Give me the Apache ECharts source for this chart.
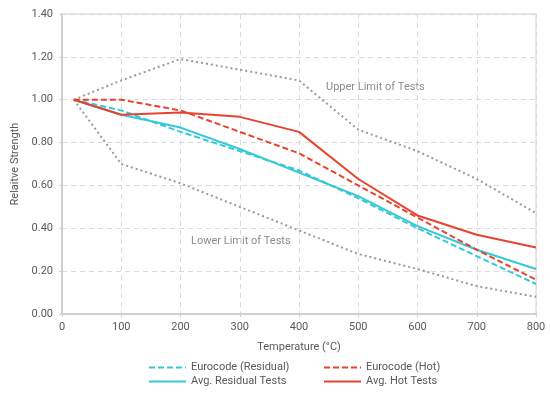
<!DOCTYPE html>
<html><head><meta charset="utf-8">
<script src="https://cdn.jsdelivr.net/npm/echarts@6/dist/echarts.min.js"></script>
<style>html,body{margin:0;padding:0;background:#fff}#c{width:550px;height:394px}</style>
</head><body><div id="c"></div>
<script>
const temps = [20, 100, 200, 300, 400, 500, 600, 700, 800];
const eurocodeResidual = [1.00, 0.95, 0.85, 0.76, 0.67, 0.54, 0.40, 0.27, 0.14];
const avgResidual      = [1.00, 0.93, 0.87, 0.77, 0.66, 0.55, 0.41, 0.30, 0.21];
const eurocodeHot      = [1.00, 1.00, 0.95, 0.85, 0.75, 0.60, 0.45, 0.30, 0.16];
const avgHot           = [1.00, 0.93, 0.94, 0.92, 0.85, 0.63, 0.46, 0.37, 0.31];
const upperLimit       = [1.00, 1.09, 1.19, 1.14, 1.09, 0.86, 0.76, 0.63, 0.47];
const lowerLimit       = [1.00, 0.70, 0.61, 0.50, 0.39, 0.28, 0.21, 0.13, 0.08];
const xTicks = [0, 100, 200, 300, 400, 500, 600, 700, 800];
const yTicks = [0, 0.2, 0.4, 0.6, 0.8, 1.0, 1.2, 1.4];

const pair = arr => temps.map((t, i) => [t, arr[i]]);
const CYAN = '#35c8d6', RED = '#e8432f', GRAY = '#9a9a9a';
const FONT = 'Roboto';
const FS = 11;

function line(name, data, color, type) {
  return {
    name, type: 'line', data: pair(data), symbol: 'none', smooth: false,
    lineStyle: { color, width: 2, type }, itemStyle: { color }, z: 3
  };
}
function leg(name, left, top) {
  return {
    data: [{ name, icon: 'inherit' }], left, top, orient: 'horizontal', padding: 0,
    itemWidth: 37, itemHeight: 10, itemGap: 0,
    itemStyle: { opacity: 0 },
    lineStyle: { width: 2 },
    textStyle: { color: '#595959', fontSize: FS, fontFamily: FONT }
  };
}

const chart = echarts.init(document.getElementById('c'), null, { renderer: 'canvas' });
chart.setOption({
  animation: false,
  textStyle: { fontFamily: FONT },
  grid: { left: 62, right: 14, top: 14, bottom: 80, show: true, borderColor: '#d0d0d0', borderWidth: 1 },
  xAxis: {
    type: 'value', min: 0, max: 800, interval: 100,
    name: 'Temperature (°C)', nameLocation: 'middle', nameGap: 28,
    nameTextStyle: { color: '#595959', fontSize: FS, fontFamily: FONT },
    axisLine: { show: true, lineStyle: { color: '#d0d0d0', width: 2 } },
    axisTick: { show: true, length: 3, lineStyle: { color: '#d0d0d0' } },
    axisLabel: { color: '#595959', fontSize: FS, fontFamily: FONT, margin: 8 },
    splitLine: { show: true, lineStyle: { color: '#dadada', type: [5, 4] } }
  },
  yAxis: {
    type: 'value', min: 0, max: 1.4, interval: 0.2,
    name: 'Relaitve Strength', nameLocation: 'middle', nameGap: 41, nameRotate: 90,
    nameTextStyle: { color: '#595959', fontSize: FS, fontFamily: FONT },
    axisLine: { show: true, lineStyle: { color: '#d0d0d0', width: 2 } },
    axisTick: { show: true, length: 3, lineStyle: { color: '#d0d0d0' } },
    axisLabel: { color: '#595959', fontSize: FS, fontFamily: FONT, margin: 9, formatter: v => v.toFixed(2) },
    splitLine: { show: true, lineStyle: { color: '#dadada', type: [5, 4] } }
  },
  legend: [
    leg('Eurocode (Residual)', 148, 362),
    leg('Avg. Residual Tests', 148, 376),
    leg('Eurocode (Hot)', 323, 362),
    leg('Avg. Hot Tests', 323, 376)
  ],
  graphic: [
    { type: 'text', left: 326, top: 82, style: { text: 'Upper Limit of Tests', fill: '#8c8c8c', fontSize: FS, fontFamily: FONT } },
    { type: 'text', left: 191, top: 236, style: { text: 'Lower Limit of Tests', fill: '#8c8c8c', fontSize: FS, fontFamily: FONT } }
  ],
  series: [
    { name: 'Upper Limit', type: 'line', data: pair(upperLimit), symbol: 'none',
      lineStyle: { color: GRAY, width: 2, type: [2, 3] }, z: 2 },
    { name: 'Lower Limit', type: 'line', data: pair(lowerLimit), symbol: 'none',
      lineStyle: { color: GRAY, width: 2, type: [2, 3] }, z: 2 },
    line('Eurocode (Residual)', eurocodeResidual, CYAN, [6, 3]),
    line('Avg. Residual Tests', avgResidual, CYAN, 'solid'),
    line('Eurocode (Hot)', eurocodeHot, RED, [6, 3]),
    line('Avg. Hot Tests', avgHot, RED, 'solid')
  ]
});
</script></body></html>
